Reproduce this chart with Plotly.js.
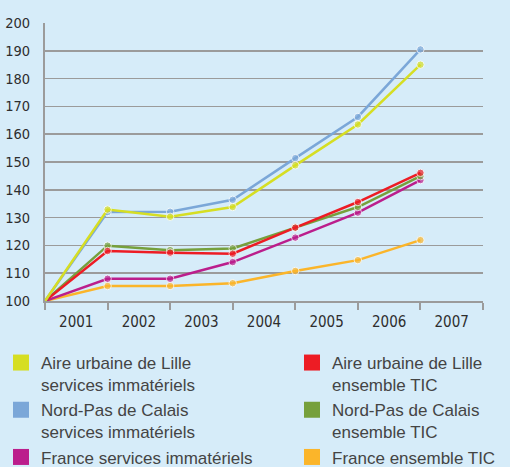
<!DOCTYPE html>
<html>
<head>
<meta charset="utf-8">
<script src="https://cdn.plot.ly/plotly-3.0.1.min.js"></script>
<style>html,body{margin:0;padding:0;background:#d6ecf9;}#chart{width:510px;height:467px;}</style>
</head>
<body>
<div id="chart"></div>
<script>
// Categories (year intervals) and point positions (boundaries between years)
const years = ["2001", "2002", "2003", "2004", "2005", "2006", "2007"];
const pointIndex = [0, 1, 2, 3, 4, 5, 6];

// Series (index, base 100)
const lilleServices   = [100, 132.9, 130.3, 133.8, 148.8, 163.5, 185.0];
const npdcServices    = [100, 132.0, 132.1, 136.4, 151.4, 166.2, 190.5];
const lilleTIC        = [100, 118.0, 117.4, 117.0, 126.4, 135.6, 146.1];
const npdcTIC         = [100, 119.9, 118.3, 118.9, 126.4, 133.8, 144.9];
const franceServices  = [100, 108.0, 108.0, 114.0, 122.8, 131.8, 143.5];
const franceTIC       = [100, 105.4, 105.4, 106.4, 110.8, 114.7, 121.9];

const yTicks = [100, 110, 120, 130, 140, 150, 160, 170, 180, 190, 200];

const series = [
  {name: "Aire urbaine de Lille<br>services immatériels", y: lilleServices, color: "#d6de23", legend: "legend", rank: 1},
  {name: "Nord-Pas de Calais<br>services immatériels", y: npdcServices, color: "#7ba7d8", legend: "legend", rank: 2},
  {name: "France services immatériels", y: franceServices, color: "#bb1e8c", legend: "legend", rank: 3},
  {name: "Aire urbaine de Lille<br>ensemble TIC", y: lilleTIC, color: "#ed1c24", legend: "legend2", rank: 1},
  {name: "Nord-Pas de Calais<br>ensemble TIC", y: npdcTIC, color: "#76a03c", legend: "legend2", rank: 2},
  {name: "France ensemble TIC", y: franceTIC, color: "#fbb52a", legend: "legend2", rank: 3}
];
const drawOrder = [5, 2, 4, 3, 1, 0];

const traces = [];
drawOrder.forEach(i => {
  const s = series[i];
  traces.push({
    type: "scatter", mode: "lines+markers",
    x: pointIndex, y: s.y,
    line: {color: s.color, width: 2.5},
    marker: {color: s.color, size: pointIndex.map(p => p === 0 ? 0 : 7.5)},
    showlegend: false, cliponaxis: false, hoverinfo: "skip"
  });
});
series.forEach(s => {
  traces.push({
    type: "scatter", mode: "markers",
    x: [null], y: [null], name: s.name, legend: s.legend, legendrank: s.rank,
    marker: {color: s.color, symbol: "square", size: 19}
  });
});

const legendFont = {family: "Liberation Sans, Arial, sans-serif", size: 17, color: "#444"};
const legendCommon = {
  orientation: "v", xref: "container", yref: "container",
  xanchor: "left", yanchor: "top", valign: "top", traceorder: "normal",
  bgcolor: "rgba(0,0,0,0)", borderwidth: 0, font: legendFont
};
const tickFontFamily = "Liberation Sans Narrow, DejaVu Sans Condensed, sans-serif";

const layout = {
  width: 510, height: 467,
  paper_bgcolor: "#d6ecf9", plot_bgcolor: "#d6ecf9",
  margin: {l: 45, r: 27, t: 23, b: 165.5, autoexpand: false},
  xaxis: {
    range: [0, 7], fixedrange: true,
    tickmode: "array",
    tickvals: years.map((_, i) => i + 0.5),
    ticktext: years,
    ticks: "outside", ticklen: 6, tickcolor: "rgba(0,0,0,0)",
    showgrid: false, zeroline: false,
    showline: true, linecolor: "#9b9b9b", linewidth: 2,
    tickfont: {family: tickFontFamily, size: 15, color: "#2e2e2e"},
    minor: {tickmode: "array", tickvals: [0, 1, 2, 3, 4, 5, 6, 7], ticks: "outside", ticklen: 7, tickwidth: 2, tickcolor: "#9b9b9b", showgrid: false}
  },
  yaxis: {
    range: [100, 200], fixedrange: true,
    tickmode: "array", tickvals: yTicks,
    ticks: "outside", ticklen: 10, tickcolor: "rgba(0,0,0,0)",
    showgrid: true, gridcolor: "#9b9b9b", gridwidth: 1.6,
    zeroline: false, showline: true, linecolor: "#9b9b9b", linewidth: 2,
    tickfont: {family: tickFontFamily, size: 14.5, color: "#2e2e2e"}
  },
  legend: Object.assign({}, legendCommon, {x: 1 / 510, y: 1 - 345 / 467}),
  legend2: Object.assign({}, legendCommon, {x: 292 / 510, y: 1 - 345 / 467}),
  showlegend: true
};

Plotly.newPlot("chart", traces, layout, {displayModeBar: false, staticPlot: true});
</script>
</body>
</html>
